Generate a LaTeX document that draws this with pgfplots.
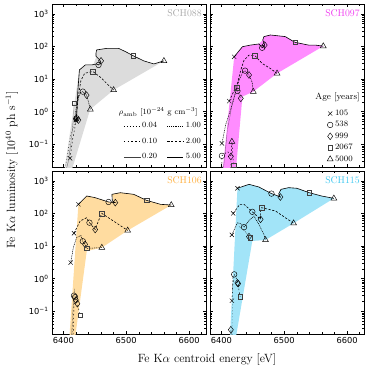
\documentclass[border=0pt]{standalone}
\usepackage{fontspec}
\usepackage{pgfplots}
\pgfplotsset{compat=1.18}
\usepgfplotslibrary{groupplots}
\newfontfamily\dv{DejaVu Sans}

\definecolor{fgray}{HTML}{DCDCDC}
\definecolor{fmag}{HTML}{FF8CFF}
\definecolor{forg}{HTML}{FFDCA0}
\definecolor{fcyan}{HTML}{A2E4F8}
\definecolor{lgray}{HTML}{AAAAAA}
\definecolor{lmag}{HTML}{F040F0}
\definecolor{lorg}{HTML}{FFB040}
\definecolor{lcyan}{HTML}{40C8F0}

\tikzset{panel/.style={font=\fontsize{9.8}{10}\selectfont, anchor=north east}}
\pgfplotsset{
  s500/.style={black, line width=0.6pt, solid},
  s200/.style={black, line width=0.6pt, dash pattern=on 2.2pt off 1.6pt},
  s100/.style={black, line width=0.5pt, dash pattern=on 1pt off 0.8pt},
  s020/.style={black!75, line width=0.4pt, dash pattern=on 0.4pt off 0.6pt},
  s010/.style={black, line width=0.5pt, dash pattern=on 1.4pt off 2.4pt},
  s004/.style={black, line width=0.5pt, dash pattern=on 0.6pt off 2.4pt},
  mk/.style={only marks, black, mark options={solid, fill=none, line width=0.45pt}},
  mx/.style={mk, mark=x, mark size=3pt},
  mo/.style={mk, mark=o, mark size=2.8pt},
  md/.style={mk, mark=diamond, mark size=3.4pt},
  ms/.style={mk, mark=square, mark size=2.3pt, mark options={solid, fill=none, line width=0.35pt, draw=black!75}},
  mt/.style={mk, mark=triangle, mark size=3.4pt},
}

\begin{document}
\begin{tikzpicture}
\begin{groupplot}[
  group style={group size=2 by 2, horizontal sep=4bp, vertical sep=4bp, group name=G},
  width=154bp, height=163bp, scale only axis,
  xmin=6382, xmax=6627, ymin=0.02, ymax=2000, ymode=log,
  xtick={6400,6500,6600}, minor xtick={6380,6420,6440,6460,6480,6520,6540,6560,6580,6620},
  ytick={0.1,1,10,100,1000},
  minor ytick={0.02,0.03,0.04,0.05,0.06,0.07,0.08,0.09,0.2,0.3,0.4,0.5,0.6,0.7,0.8,0.9,2,3,4,5,6,7,8,9,20,30,40,50,60,70,80,90,200,300,400,500,600,700,800,900,2000},
  tick align=inside, tick pos=both,
  major tick length=3.2bp, minor tick length=1.7bp,
  tick style={black, line width=0.4pt},
  axis line style={line width=0.5pt},
  tick label style={font=\dv\fontsize{8.3}{9}\selectfont},
  clip=true,
]
% ---------------- SCH088 ----------------
\nextgroupplot[xticklabels={},
  yticklabels={10\textsuperscript{−1},10\textsuperscript{0},10\textsuperscript{1},10\textsuperscript{2},10\textsuperscript{3}},
  legend columns=2,
  legend style={draw=none, fill=none, at={(1.0,0.015)}, anchor=south east,
    font=\fontsize{8}{9}\selectfont, row sep=4.8bp,
    /tikz/every even column/.append style={column sep=8bp}},
  legend cell align=left,
  legend image code/.code={\draw[#1] (0bp,0bp) -- (16bp,0bp);}]
\addplot[fill=fgray, draw=none, forget plot] coordinates {
 (6401.5,0.015) (6425.6,19) (6435,27) (6448,28) (6452,45) (6453,78) (6469,87) (6488,87)
 (6499,69) (6511,52) (6528,36) (6544,29) (6560,36) (6480,4.6) (6442.7,1.17) (6413,0.015)};
\addplot[s500, forget plot] coordinates {
 (6421,0.6) (6423,4) (6425.6,19) (6435,27) (6445,27) (6453,29) (6456,27) (6460,32) (6458,38)
 (6452,50) (6452,62) (6453,78) (6469,87) (6488,87) (6499,69) (6511,52) (6528,36) (6544,29) (6560,36)};
\addplot[s200, forget plot] coordinates {
 (6420,0.55) (6424,3) (6428,9) (6434,15) (6447,17) (6460,11) (6470,7) (6480,4.6)};
\addplot[s100, forget plot] coordinates {
 (6418,0.6) (6422,2) (6427,3.8) (6431,4.1) (6437,3.2) (6440,2) (6443,1.17)};
\addplot[s020, forget plot] coordinates {
 (6404,0.015) (6408,0.03) (6413,0.15) (6416,0.6) (6417,1.8)};
\addplot[s010, forget plot] coordinates {
 (6410.7,0.037) (6415,0.15) (6421.3,0.62) (6424,0.55)};
\addplot[s004, forget plot] coordinates {
 (6400,0.015) (6405,0.03) (6412,0.2) (6419,0.5)};
\addplot[mx, forget plot] coordinates {(6421,0.6) (6420,0.55) (6410.7,0.037)};
\addplot[mo, forget plot] coordinates {(6456,27) (6431,4.1) (6421.3,0.62)};
\addplot[md, forget plot] coordinates {(6460,36) (6437,3.2) (6424,0.55) (6420,0.6)};
\addplot[ms, forget plot] coordinates {(6511,52) (6447,17) (6417,1.8)};
\addplot[mt, forget plot] coordinates {(6560,36) (6480,4.6) (6443,1.17)};
\addlegendimage{s004}\addlegendentry{0.04}
\addlegendimage{s100}\addlegendentry{1.00}
\addlegendimage{s010}\addlegendentry{0.10}
\addlegendimage{s200}\addlegendentry{2.00}
\addlegendimage{s020}\addlegendentry{0.20}
\addlegendimage{s500}\addlegendentry{5.00}
\node[font=\fontsize{8}{9}\selectfont, anchor=center] at (rel axis cs:0.69,0.335)
  {$\rho_{\rm amb}$ [$10^{-24}$ g cm$^{-3}$]};
\node[panel, text=lgray] at (rel axis cs:0.995,0.985) {SCH088};

% ---------------- SCH097 ----------------
\nextgroupplot[xticklabels={}, yticklabels={},
  legend style={draw=none, fill=none, at={(0.96,0.375)}, anchor=north east,
    font=\fontsize{8.3}{9}\selectfont, row sep=0.4bp},
  legend cell align=left]
\addplot[fill=fmag, draw=none, forget plot] coordinates {
 (6402,0.015) (6420.5,48) (6433.6,98) (6459.8,119) (6466,157) (6467.7,200) (6478.2,224)
 (6501.8,200) (6512.3,151) (6517.6,133) (6538.6,110) (6549,110) (6562.2,102)
 (6488.7,14.9) (6450.9,4.1) (6433.6,2.9) (6423,0.015)};
\addplot[s500, forget plot] coordinates {
 (6420.5,48) (6433.6,98) (6446.7,110) (6459.8,119) (6465,91) (6469,110) (6466,157) (6467.7,200)
 (6478.2,224) (6501.8,200) (6512.3,151) (6517.6,133) (6538.6,110) (6549,110) (6562.2,102)};
\addplot[s200, forget plot] coordinates {
 (6412.6,2.1) (6425.7,7.4) (6431,18.9) (6436.2,38) (6444.1,54) (6453.5,52) (6465,30) (6478,21) (6488.7,14.9)};
\addplot[s100, forget plot] coordinates {
 (6401,0.106) (6407,0.4) (6418,1.8) (6428,9) (6434,16) (6437.8,18) (6444.1,13.3) (6449,8) (6450.9,4.1)};
\addplot[s020, forget plot] coordinates {
 (6403,0.015) (6410,0.3) (6418,2) (6424.7,5.5) (6425.7,4.3) (6431,2.55)};
\addplot[s010, forget plot] coordinates {
 (6401,0.015) (6401,0.044) (6410,0.06) (6415.2,0.042) (6416.8,0.12) (6419.4,0.023)};
\addplot[s004, forget plot] coordinates {
 (6414,0.015) (6416,0.05) (6416.8,0.12)};
\addplot[mx] coordinates {(6420.5,48) (6412.6,2.1) (6401,0.106)};
\addplot[mo] coordinates {(6465,91) (6437.8,18) (6425.7,4.3) (6401,0.044)};
\addplot[md] coordinates {(6469,110) (6444.1,13.3) (6431,2.55) (6415.2,0.042)};
\addplot[ms] coordinates {(6517.6,133) (6453.5,52) (6424.7,5.5) (6419.4,0.023)};
\addplot[mt] coordinates {(6562.2,102) (6488.7,14.9) (6450.9,4.1) (6416.8,0.12)};
\legend{105,538,999,2067,5000}
\node[font=\fontsize{9}{10}\selectfont, anchor=east] at (rel axis cs:0.995,0.425) {Age [years]};
\node[panel, text=lmag] at (rel axis cs:0.995,0.985) {SCH097};

% ---------------- SCH106 ----------------
\nextgroupplot[xticklabels={6400,6500,6600},
  yticklabels={10\textsuperscript{−1},10\textsuperscript{0},10\textsuperscript{1},10\textsuperscript{2},10\textsuperscript{3}}]
\addplot[fill=forg, draw=none] coordinates {
 (6409.6,0.015) (6424,190) (6437.3,342) (6450.7,304) (6472,224) (6480,232) (6477.3,385) (6490.7,432)
 (6512,385) (6532.3,252) (6554.7,190) (6571.7,181) (6502.4,30) (6461.3,8.9) (6437.3,7) (6418.7,0.015)};
\addplot[s500] coordinates {
 (6424,190) (6437.3,342) (6450.7,304) (6472,224) (6482.7,214) (6478,240) (6477.3,385) (6490.7,432)
 (6512,385) (6532.3,252) (6554.7,190) (6571.7,181)};
\addplot[s200] coordinates {
 (6417,24.6) (6426.7,58.5) (6437.3,74) (6441.6,52) (6450.7,32) (6456,60) (6461.3,100) (6480,58) (6502.4,30)};
\addplot[s100] coordinates {
 (6411.7,3.1) (6416,9) (6421,18) (6428,21) (6431,14) (6434.7,11.2) (6437.3,8.5) (6450,8.7) (6461.3,8.9)};
\addplot[s020] coordinates {
 (6413,0.015) (6415,0.1) (6417,0.3) (6418,0.5)};
\addplot[s010] coordinates {
 (6415.5,0.015) (6417,0.15) (6419,0.27) (6422.4,0.17) (6426.7,0.076)};
\addplot[s004] coordinates {
 (6414,0.015) (6416,0.2) (6417,0.3)};
\addplot[mx] coordinates {(6424,190) (6417,24.6) (6411.7,3.1)};
\addplot[mo] coordinates {(6472,224) (6441.6,52) (6431,14) (6417,0.3) (6418.7,0.27)};
\addplot[md] coordinates {(6482.7,214) (6450.7,32) (6434.7,11.2) (6422.4,0.17) (6420,0.22)};
\addplot[ms] coordinates {(6532.3,252) (6461.3,100) (6437.3,8.5) (6426.7,0.076)};
\addplot[mt] coordinates {(6571.7,181) (6502.4,30) (6461.3,8.9)};
\node[panel, text=lorg] at (rel axis cs:0.995,0.985) {SCH106};

% ---------------- SCH115 ----------------
\nextgroupplot[xticklabels={6400,6500,6600}, yticklabels={}]
\addplot[fill=fcyan, draw=none] coordinates {
 (6413.6,0.015) (6425.7,590) (6444.1,780) (6459.8,646) (6479.8,405) (6494,318) (6491.3,400) (6495,548)
 (6507,617) (6520.2,590) (6539.6,434) (6559.6,342) (6579,290) (6515,50) (6470.3,15.3) (6449.3,14.3) (6423,0.015)};
\addplot[s500] coordinates {
 (6425.7,590) (6444.1,780) (6459.8,646) (6479.8,405) (6489,350) (6494,318) (6491.3,400) (6495,548)
 (6507,617) (6520.2,590) (6539.6,434) (6559.6,342) (6579,290)};
\addplot[s200] coordinates {
 (6418.9,100) (6429.4,190) (6436.2,190) (6449.3,112) (6462.5,66) (6462,110) (6464,150) (6486.1,119) (6501.8,74) (6515,50)};
\addplot[s100] coordinates {
 (6416.8,22) (6425.7,52) (6431,48) (6436.2,38) (6444,60) (6452,83) (6459.8,46) (6467.7,22.8) (6470.3,15.3)};
\addplot[s020] coordinates {
 (6428,40) (6438,28) (6444,19.4) (6445.7,18)};
\addplot[s010] coordinates {
 (6416.8,0.21) (6418,0.6) (6420.5,1.35) (6424,1.0) (6426.8,0.70) (6428,0.45) (6429.9,0.28)};
\addplot[s004] coordinates {
 (6417,0.015) (6417.5,0.1) (6418,1.2)};
\addplot[s020] coordinates {
 (6413,0.015) (6415.2,0.027) (6418,0.015)};
\addplot[mx] coordinates {(6425.7,590) (6418.9,100) (6416.8,22) (6416.8,0.21)};
\addplot[mo] coordinates {(6479.8,405) (6449.3,112) (6436.2,38) (6420.5,1.35)};
\addplot[md] coordinates {(6494,318) (6462.5,66) (6444,19.4) (6426.8,0.70) (6425.7,0.74) (6415.2,0.027)};
\addplot[ms] coordinates {(6539.6,434) (6464,150) (6445.7,18) (6429.9,0.28)};
\addplot[mt] coordinates {(6579,290) (6515,50) (6470.3,15.3)};
\node[panel, text=lcyan] at (rel axis cs:0.995,0.985) {SCH115};
\end{groupplot}
\node[font=\fontsize{12}{13}\selectfont, anchor=center] at ([shift={(155bp,-26bp)}]G c1r2.south west)
  {Fe K$\alpha$ centroid energy [eV]};
\node[font=\fontsize{12}{13}\selectfont, anchor=center, rotate=90] at ([shift={(-40bp,164bp)}]G c1r2.south west)
  {Fe K$\alpha$ luminosity [$10^{40}$ ph s$^{-1}$]};
\pgfresetboundingbox
\path[use as bounding box] ([shift={(-52bp,-38bp)}]G c1r2.south west) rectangle ([shift={(8bp,4bp)}]G c2r1.north east);
\end{tikzpicture}
\end{document}
